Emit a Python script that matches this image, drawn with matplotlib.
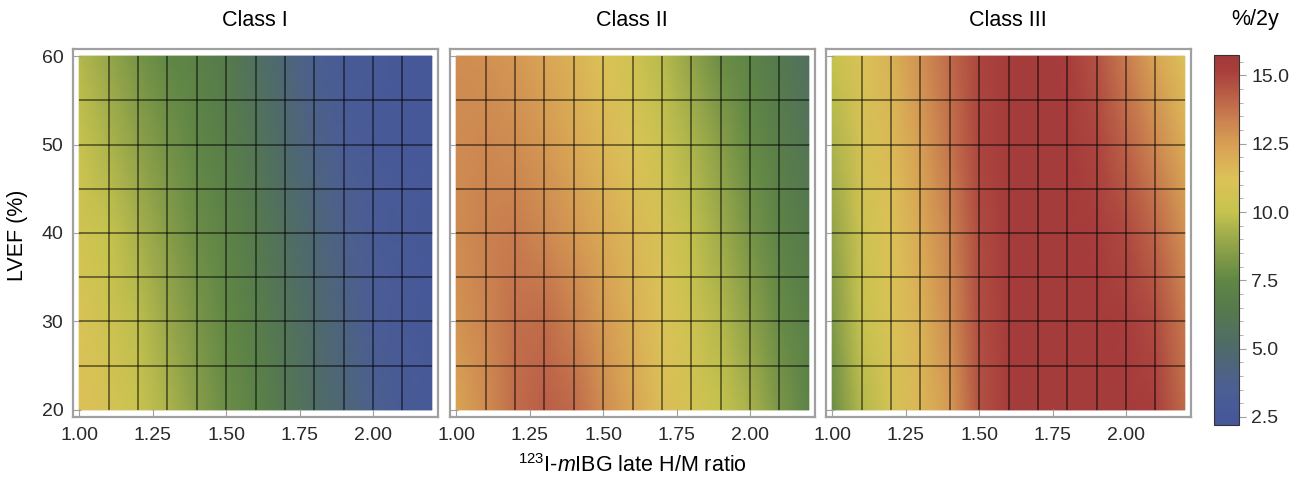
import numpy as np
import matplotlib
matplotlib.use('Agg')
import matplotlib.pyplot as plt
from matplotlib.colors import LinearSegmentedColormap, Normalize

plt.rcParams['font.family'] = ['Liberation Sans', 'DejaVu Sans']
plt.rcParams['mathtext.fontset'] = 'custom'
plt.rcParams['mathtext.rm'] = 'Liberation Sans'
plt.rcParams['mathtext.it'] = 'Liberation Sans:italic'

# Stuetzstellen: H/M-Verhaeltnis und LVEF
hm = [1.0, 1.1, 1.2, 1.3, 1.4, 1.5, 1.6, 1.7, 1.8, 1.9, 2.0, 2.1, 2.2]
lvef = [20, 30, 40, 50, 60]

# Ereignisrate %/2y, Zeilen = LVEF 20..60
class1 = [
    [11.3, 10.8, 10.2, 9.4, 8.5, 7.8, 7.1, 6.2, 5.3, 4.6, 3.7, 3.0, 2.7],
    [11.0, 10.4, 9.8, 9.0, 8.2, 7.5, 6.8, 5.9, 5.0, 4.2, 3.4, 2.9, 2.6],
    [10.6, 10.0, 9.3, 8.5, 7.8, 7.2, 6.4, 5.5, 4.6, 3.8, 3.1, 2.8, 2.6],
    [10.1, 9.4, 8.7, 8.0, 7.4, 6.8, 6.0, 5.0, 4.1, 3.4, 2.9, 2.7, 2.5],
    [9.6, 8.9, 8.1, 7.5, 7.0, 6.4, 5.5, 4.5, 3.6, 3.0, 2.8, 2.6, 2.5],
]
class2 = [
    [12.3, 13.0, 13.9, 14.3, 14.0, 13.1, 12.3, 11.4, 10.7, 10.0, 9.3, 8.2, 7.2],
    [12.8, 13.3, 13.8, 13.9, 13.4, 12.6, 11.9, 11.1, 10.4, 9.6, 8.7, 7.7, 6.9],
    [13.1, 13.4, 13.5, 13.2, 12.7, 12.1, 11.6, 10.8, 9.9, 9.1, 8.1, 7.2, 6.5],
    [13.1, 13.2, 13.0, 12.7, 12.2, 11.6, 11.0, 10.2, 9.4, 8.5, 7.6, 6.8, 6.0],
    [13.0, 12.9, 12.7, 12.3, 11.8, 11.1, 10.5, 9.7, 8.8, 7.8, 7.2, 6.3, 5.5],
]
class3 = [
    [7.8, 9.6, 10.8, 11.6, 12.6, 14.6, 15.4, 15.5, 15.5, 15.5, 15.4, 15.2, 14.0],
    [8.3, 10.0, 11.0, 11.8, 13.0, 14.7, 15.4, 15.5, 15.5, 15.5, 15.3, 14.8, 13.6],
    [8.8, 10.3, 11.2, 12.1, 13.3, 14.8, 15.5, 15.5, 15.5, 15.3, 14.9, 14.1, 12.9],
    [9.4, 10.7, 11.5, 12.5, 13.7, 15.0, 15.5, 15.5, 15.4, 15.0, 14.2, 13.2, 12.0],
    [10.0, 11.0, 11.8, 12.9, 14.0, 15.0, 15.5, 15.5, 15.3, 14.6, 13.5, 12.3, 11.2],
]
titles = ['Class I', 'Class II', 'Class III']
cb_ticks = [2.5, 5.0, 7.5, 10.0, 12.5, 15.0]

vmin, vmax = 2.2, 15.75
stops = [(2.2, '#45569a'), (3.5, '#4c5e94'), (5.0, '#4f6a6a'), (6.5, '#567b4b'),
         (7.5, '#608745'), (9.0, '#9aa84a'), (10.0, '#c6c34e'), (11.2, '#dcc258'),
         (12.3, '#d9a555'), (13.3, '#cc8550'), (14.3, '#ba5e47'), (15.2, '#a83e3c'),
         (15.75, '#a23a3a')]
cmap = LinearSegmentedColormap.from_list(
    'darkrainbow', [((v - vmin) / (vmax - vmin), c) for v, c in stops])
norm = Normalize(vmin, vmax)

fig = plt.figure(figsize=(13.06, 4.8), dpi=100)
lefts = [73, 450, 826]
frame = '#a0a0a0'
X, Y = np.meshgrid(hm, lvef)

for i, (z, t) in enumerate(zip([class1, class2, class3], titles)):
    ax = fig.add_axes([lefts[i] / 1306, 1 - 417 / 480, 365 / 1306, 368 / 480])
    mesh = ax.pcolormesh(X, Y, np.array(z), shading='gouraud', cmap=cmap, norm=norm)
    ax.vlines(np.arange(1.1, 2.15, 0.1), 20, 60, color='black', lw=1.1, alpha=0.6)
    ax.hlines(np.arange(25, 60, 5), 1.0, 2.2, color='black', lw=1.1, alpha=0.6)
    ax.set_xlim(1.0 - 0.021, 2.2 + 0.021)
    ax.set_ylim(20 - 0.8, 60 + 0.8)
    ax.set_xticks([1.0, 1.25, 1.5, 1.75, 2.0])
    ax.set_xticklabels(['1.00', '1.25', '1.50', '1.75', '2.00'])
    ax.set_yticks([20, 30, 40, 50, 60])
    ax.tick_params(direction='in', length=6, color=frame, labelsize=14,
                   labelcolor='#2a2a2a', pad=7)
    if i > 0:
        ax.set_yticklabels([])
    for s in ax.spines.values():
        s.set_color(frame)
        s.set_linewidth(1.6)
    fig.text((lefts[i] + 182) / 1306, 1 - 20 / 480, t, ha='center', va='center', fontsize=15.5)

fig.text(18 / 1306, 1 - 235 / 480, 'LVEF (%)', rotation=90, ha='center', va='center', fontsize=15.5)
fig.text(632 / 1306, 1 - 466 / 480, r'$^{123}$I-$\mathit{m}$IBG late H/M ratio',
         ha='center', va='center', fontsize=15.5)

cax = fig.add_axes([1214 / 1306, 1 - 425 / 480, 25 / 1306, 370 / 480])
cb = fig.colorbar(mesh, cax=cax)
cb.set_ticks(cb_ticks)
cb.set_ticklabels(['%.1f' % v for v in cb_ticks])
cb.ax.yaxis.set_minor_locator(matplotlib.ticker.MultipleLocator(0.5))
cb.ax.tick_params(which='major', length=5, color=frame, labelsize=14,
                  labelcolor='#2a2a2a', pad=4)
cb.ax.tick_params(which='minor', length=3, color=frame)
cb.outline.set_edgecolor('#333333')
cb.outline.set_linewidth(0.8)
fig.text(1255 / 1306, 1 - 20 / 480, '%/2y', ha='center', va='center', fontsize=15.5)

plt.savefig('out.png', dpi=100)
